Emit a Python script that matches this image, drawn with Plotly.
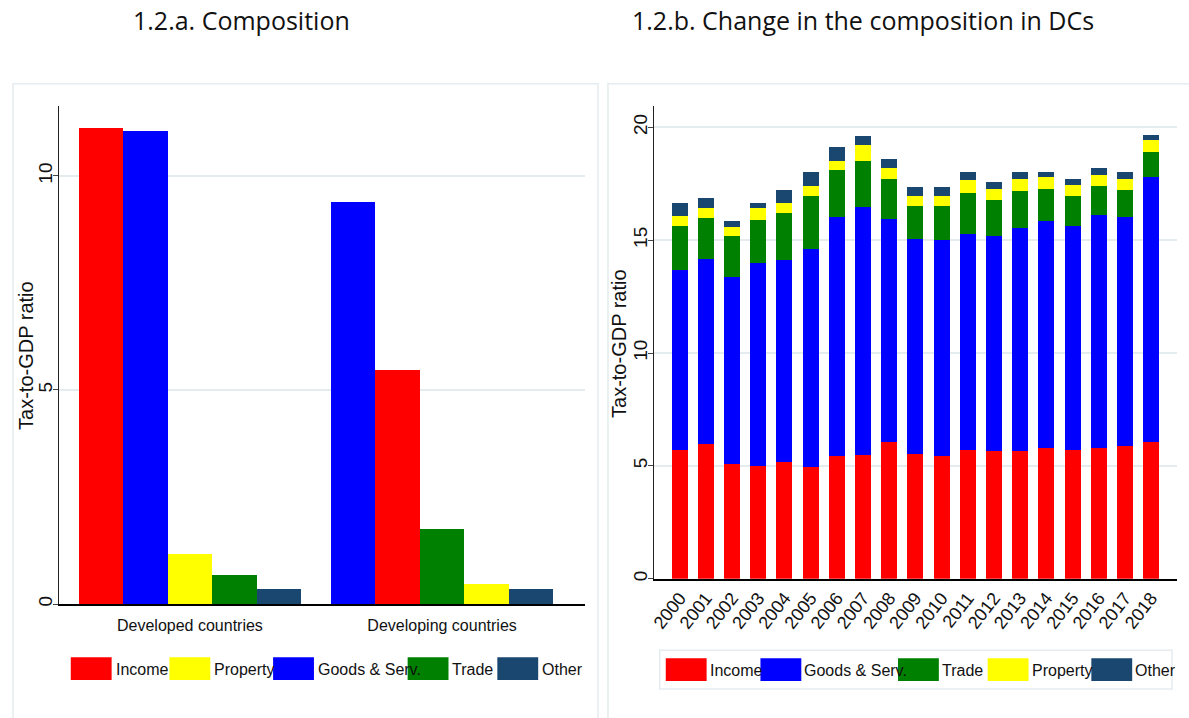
import plotly.graph_objects as go

W, H = 1189, 718

# ---------------- data ----------------
series = ["Income", "Goods & Serv.", "Trade", "Property", "Other"]
series_colors = ["#ff0000", "#0000ff", "#008000", "#ffff00", "#1a476f"]

# Panel a: composition (tax-to-GDP ratio)
groups = ["Developed countries", "Developing countries"]
comp_income = [11.12, 5.46]
comp_goods = [11.05, 9.38]
comp_trade = [0.67, 1.76]
comp_property = [1.16, 0.46]
comp_other = [0.34, 0.36]

# Panel b: change in composition in DCs
years = ["2000", "2001", "2002", "2003", "2004", "2005", "2006", "2007", "2008", "2009",
         "2010", "2011", "2012", "2013", "2014", "2015", "2016", "2017", "2018"]
dc_income = [5.70, 5.95, 5.09, 5.01, 5.18, 4.96, 5.42, 5.49, 6.04, 5.54,
             5.45, 5.71, 5.67, 5.68, 5.77, 5.71, 5.77, 5.86, 6.04]
dc_goods = [7.97, 8.20, 8.27, 8.97, 8.96, 9.64, 10.60, 10.96, 9.90, 9.51,
            9.54, 9.55, 9.50, 9.84, 10.06, 9.90, 10.34, 10.16, 11.75]
dc_trade = [1.94, 1.82, 1.82, 1.90, 2.05, 2.38, 2.11, 2.08, 1.79, 1.45,
            1.51, 1.85, 1.59, 1.64, 1.46, 1.33, 1.28, 1.19, 1.14]
dc_property = [0.47, 0.44, 0.40, 0.53, 0.48, 0.44, 0.40, 0.71, 0.45, 0.48,
               0.48, 0.54, 0.49, 0.53, 0.49, 0.50, 0.52, 0.52, 0.53]
dc_other = [0.55, 0.44, 0.25, 0.26, 0.56, 0.62, 0.62, 0.39, 0.41, 0.36,
            0.36, 0.35, 0.31, 0.31, 0.22, 0.25, 0.31, 0.27, 0.22]

titles = ["1.2.a. Composition", "1.2.b. Change in the composition in DCs"]
y_title = "Tax-to-GDP ratio"
legend_a_order = ["Income", "Property", "Goods & Serv.", "Trade", "Other"]
legend_b_order = ["Income", "Goods & Serv.", "Trade", "Property", "Other"]

# ---------------- styling ----------------
color_of = dict(zip(series, series_colors))
comp = dict(zip(series, [comp_income, comp_goods, comp_trade, comp_property, comp_other]))
dc = dict(zip(series, [dc_income, dc_goods, dc_trade, dc_property, dc_other]))

SANS = "Liberation Sans, Arial, sans-serif"
NARROW = "Liberation Sans Narrow, Arial Narrow, Liberation Sans, sans-serif"
TICK_FONT = dict(family=SANS, size=19, color="#111")
TITLE_FONT = dict(family="Open Sans, Noto Sans, sans-serif", size=25, color="#111")
GRID = "#e4ecef"
PANEL = "#e4ecef"


def px(x):
    return x / W


def py(y):
    return 1 - y / H


fig = go.Figure()

# Panel a: bars sorted by size within each group
BW = 0.1763
xa = {s: [] for s in series}
for g in range(len(groups)):
    vals = {s: comp[s][g] for s in series}
    order = sorted(series, key=lambda s: -vals[s])
    for rank, s in enumerate(order):
        xa[s].append(g + (rank - (len(series) - 1) / 2) * BW)

for s in series:
    fig.add_trace(go.Bar(
        x=xa[s], y=comp[s], width=BW, name=s, marker_color=color_of[s],
        marker_line_width=0, xaxis="x", yaxis="y", showlegend=False,
    ))

# Panel b: stacked bars
for s in series:
    fig.add_trace(go.Bar(
        x=years, y=dc[s], name=s, marker_color=color_of[s],
        marker_line_width=0, xaxis="x2", yaxis="y2", showlegend=False,
    ))

shapes = []
annotations = []

# panel frames
shapes.append(dict(type="rect", xref="paper", yref="paper", x0=px(9), x1=px(596),
                   y0=py(730), y1=py(84), line=dict(color=PANEL, width=1.5), layer="below"))
shapes.append(dict(type="rect", xref="paper", yref="paper", x0=px(606), x1=px(1200),
                   y0=py(730), y1=py(84), line=dict(color=PANEL, width=1.5), layer="below"))

# titles
annotations.append(dict(text=titles[0], x=px(238), y=py(20), xref="paper", yref="paper",
                        showarrow=False, font=TITLE_FONT, xanchor="center", yanchor="middle"))
annotations.append(dict(text=titles[1], x=px(862), y=py(20), xref="paper", yref="paper",
                        showarrow=False, font=TITLE_FONT, xanchor="center", yanchor="middle"))

# y titles
for xc, yc in [(22, 356), (617, 344)]:
    annotations.append(dict(text=y_title, x=px(xc), y=py(yc), xref="paper", yref="paper",
                            showarrow=False, textangle=-90,
                            font=dict(family=SANS, size=20, color="#111"),
                            xanchor="center", yanchor="middle"))

# legends (drawn as boxes + text)
LEG_FONT = dict(family=NARROW, size=16, color="#111")
leg_a_x = [67, 166, 270, 405, 495]
for s, x0 in zip(legend_a_order, leg_a_x):
    shapes.append(dict(type="rect", xref="paper", yref="paper", x0=px(x0), x1=px(x0 + 41),
                       y0=py(682), y1=py(659), fillcolor=color_of[s], line=dict(width=0)))
    annotations.append(dict(text=s, x=px(x0 + 43), y=py(671), xref="paper", yref="paper",
                            showarrow=False, font=LEG_FONT, xanchor="left", yanchor="middle"))

shapes.append(dict(type="rect", xref="paper", yref="paper", x0=px(658), x1=px(1172),
                   y0=py(691), y1=py(652), line=dict(color=PANEL, width=1.5)))
leg_b_x = [664, 759, 897, 987, 1091]
for s, x0 in zip(legend_b_order, leg_b_x):
    shapes.append(dict(type="rect", xref="paper", yref="paper", x0=px(x0), x1=px(x0 + 41),
                       y0=py(683), y1=py(660), fillcolor=color_of[s], line=dict(width=0)))
    annotations.append(dict(text=s, x=px(x0 + 42), y=py(672), xref="paper", yref="paper",
                            showarrow=False, font=LEG_FONT, xanchor="left", yanchor="middle"))

yaxis_common = dict(
    showline=True, linecolor="#222", linewidth=1, ticks="outside", ticklen=5,
    tickcolor="#444", tickangle=-90, tickfont=TICK_FONT, showgrid=True,
    gridcolor=GRID, gridwidth=2, zeroline=False, fixedrange=True,
    ticklabelstandoff=-7,
)

fig.update_layout(
    width=W, height=H,
    margin=dict(l=0, r=0, t=0, b=0),
    paper_bgcolor="white", plot_bgcolor="white",
    barmode="stack", bargap=0.39,
    showlegend=False,
    xaxis=dict(domain=[px(55), px(583)], range=[-0.52, 1.567], tickvals=[0, 1],
               ticktext=groups, ticks="", showline=True, linecolor="black", linewidth=2,
               showgrid=False, zeroline=False, anchor="y", ticklabelstandoff=6,
               tickfont=dict(family=NARROW, size=16, color="#111")),
    yaxis=dict(domain=[py(605.7), py(106)], range=[0, 11.64], tickvals=[0, 5, 10],
               anchor="x", **yaxis_common),
    xaxis2=dict(domain=[px(652), px(1176.7)], type="category", range=[-0.99, 18.98],
                ticks="", showline=True, linecolor="black", linewidth=1.5, showgrid=False,
                tickangle=-52, anchor="y2",
                tickfont=dict(family=SANS, size=18, color="#111")),
    yaxis2=dict(domain=[py(580.3), py(106)], range=[0, 20.96], tickvals=[0, 5, 10, 15, 20],
                anchor="x2", **yaxis_common),
    shapes=shapes,
    annotations=annotations,
)

fig.write_html("out.html", post_script="document.body.style.margin='0';",
               config={"displayModeBar": False})
